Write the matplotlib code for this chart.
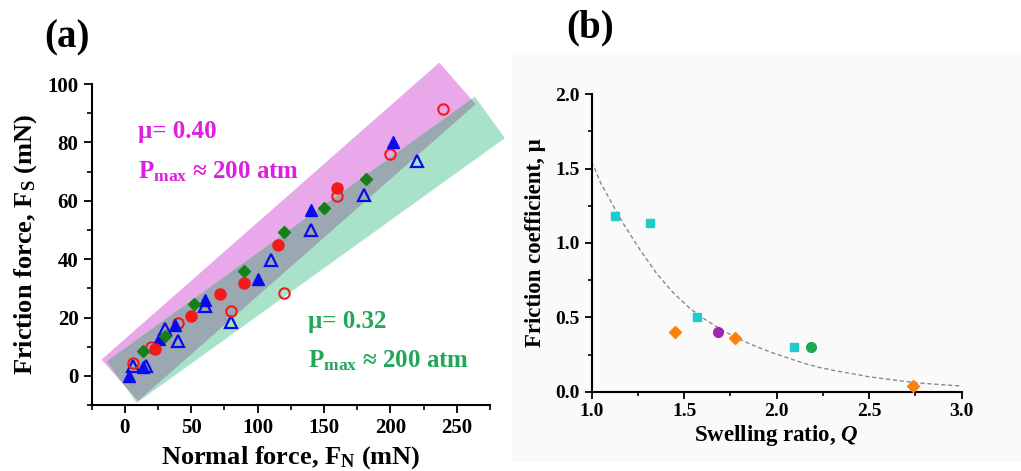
import matplotlib
matplotlib.use("Agg")
import matplotlib.pyplot as plt
import numpy as np
from matplotlib.patches import Polygon, Rectangle
from matplotlib.ticker import MultipleLocator, FormatStrFormatter

plt.rcParams['font.family'] = ['Liberation Serif', 'DejaVu Serif']
plt.rcParams['font.weight'] = 'bold'
plt.rcParams['mathtext.fontset'] = 'custom'
plt.rcParams['mathtext.rm'] = 'Liberation Serif:bold'
plt.rcParams['mathtext.bf'] = 'Liberation Serif:bold'
plt.rcParams['mathtext.it'] = 'Liberation Serif:italic:bold'

# ---- panel (a) data: normal force vs friction force (mN)
tri_fill_x = [3, 14, 26, 38, 60, 100, 140, 202]
tri_fill_y = [0, 3.0, 12.8, 17.3, 26, 33.2, 57, 80]
tri_open_x = [6, 16, 30, 40, 60, 80, 110, 140, 180, 220]
tri_open_y = [3.5, 3.4, 16, 12, 24, 18.3, 39.7, 50, 62, 73.5]
circ_fill_x = [23, 50, 72, 90, 115, 160]
circ_fill_y = [9.2, 20.4, 28, 32, 45, 64.4]
circ_open_x = [6, 20, 40, 80, 120, 160, 200, 240]
circ_open_y = [4.4, 9.8, 18.2, 22.3, 28.3, 61.5, 76.2, 91.3]
dia_x = [14, 30, 52, 90, 120, 150, 182]
dia_y = [8.6, 13.5, 24.6, 36, 49.3, 57.5, 67.4]

# shaded bands (slope, intercept, vertical half-height, x range of centre line)
band_slope = [0.40, 0.327]
band_icpt = [0.0, -1.35]
band_half = [12.6, 10.8]
band_x0 = [-3.8, -2.3]
band_x1 = [250.6, 275.0]
band_color = ['#e9a8e9', '#a8e3c9']
overlap_color = '#9ba7b1'

# ---- panel (b) data: swelling ratio vs friction coefficient
sq_q = [1.126, 1.315, 1.571, 2.094]
sq_mu = [1.18, 1.132, 0.50, 0.298]
od_q = [1.45, 1.775, 2.739]
od_mu = [0.40, 0.36, 0.038]
pc_q = [1.685]
pc_mu = [0.40]
gc_q = [2.184]
gc_mu = [0.30]
fit_q = [1.0, 1.05, 1.108, 1.171, 1.261, 1.351, 1.441, 1.531, 1.622, 1.711, 1.80,
         1.892, 1.98, 2.072, 2.15, 2.234, 2.32, 2.414, 2.5, 2.595, 2.685, 2.775, 2.88, 3.0]
fit_mu = [1.547, 1.40, 1.27, 1.13, 0.955, 0.795, 0.665, 0.56, 0.478, 0.41, 0.352,
          0.302, 0.26, 0.222, 0.19, 0.162, 0.14, 0.12, 0.1, 0.085, 0.07, 0.058, 0.048, 0.038]

fig = plt.figure(figsize=(10.21, 4.71), dpi=100)
fig.patches.append(Rectangle((0.501, 0.019), 0.499, 0.868, transform=fig.transFigure,
                             facecolor='#fafafa', edgecolor='none', zorder=-10))

def style_axes(ax, tsize):
    for s in ['top', 'right']:
        ax.spines[s].set_visible(False)
    for s in ['left', 'bottom']:
        ax.spines[s].set_linewidth(1.5)
    ax.tick_params(which='major', direction='out', length=6, width=1.3, labelsize=tsize)
    ax.tick_params(which='minor', direction='out', length=3.5, width=1.2)
    ax.patch.set_visible(False)

# ---------------- panel (a)
ax1 = fig.add_axes([0.0898, 0.140, 0.390, 0.6815])
ax1.set_xlim(-25, 275)
ax1.set_ylim(-10, 100)
style_axes(ax1, 15)
ax1.xaxis.set_minor_locator(MultipleLocator(25))
ax1.yaxis.set_minor_locator(MultipleLocator(10))
ax1.set_xticks([0, 50, 100, 150, 200, 250])
ax1.set_yticks([0, 20, 40, 60, 80, 100])

def band_polygon(ax, m, b, h, x0, x1):
    # rectangle along the centre line, ends square in screen space
    p0 = ax.transData.transform((x0, m * x0 + b))
    p1 = ax.transData.transform((x1, m * x1 + b))
    d = (p1 - p0) / np.hypot(*(p1 - p0))
    n = np.array([-d[1], d[0]])
    hpx = ax.transData.transform((0, h))[1] - ax.transData.transform((0, 0))[1]
    w = hpx * d[0]
    pts = np.array([p0 + n * w, p1 + n * w, p1 - n * w, p0 - n * w])
    return ax.transData.inverted().transform(pts)

patches = []
for i in range(2):
    poly = Polygon(band_polygon(ax1, band_slope[i], band_icpt[i], band_half[i],
                                band_x0[i], band_x1[i]),
                   closed=True, facecolor=band_color[i], edgecolor='none',
                   clip_on=False, zorder=1)
    ax1.add_patch(poly)
    patches.append(poly)
overlap = Polygon(band_polygon(ax1, band_slope[1], band_icpt[1], band_half[1],
                               band_x0[1], band_x1[1]),
                  closed=True, facecolor=overlap_color, edgecolor='none', zorder=2)
overlap.set_clip_path(patches[0])
ax1.add_patch(overlap)

blue = '#0a0aee'
red = '#f51a1a'
dgreen = '#177f17'
ax1.plot(tri_open_x, tri_open_y, '^', ms=8.5, mfc='none', mec=blue, mew=1.6, zorder=3, clip_on=False)
ax1.plot(circ_open_x, circ_open_y, 'o', ms=7.5, mfc='none', mec=red, mew=1.5, zorder=3, clip_on=False)
ax1.plot(tri_fill_x, tri_fill_y, '^', ms=8.5, color=blue, zorder=4, clip_on=False)
ax1.plot(circ_fill_x, circ_fill_y, 'o', ms=8, color=red, zorder=4, clip_on=False)
ax1.plot(dia_x, dia_y, 'D', ms=6.5, color=dgreen, zorder=4, clip_on=False)

mag = '#dd1ee3'
grn = '#22a65a'
ax1.text(9.8, 81.5, 'μ= 0.40', color=mag, fontsize=18, fontweight='bold', va='baseline')
ax1.text(9.8, 67.8, r'P$_{\mathrm{max}}$ ≈ 200 atm', color=mag, fontsize=18,
         fontweight='bold', va='baseline')
ax1.text(138, 16.5, 'μ= 0.32', color=grn, fontsize=18, fontweight='bold', va='baseline')
ax1.text(138, 2.75, r'P$_{\mathrm{max}}$ ≈ 200 atm', color=grn, fontsize=18,
         fontweight='bold', va='baseline')

ax1.set_xlabel(r'Normal force, F$_{\mathrm{N}}$ (mN)', fontsize=19, fontweight='bold', labelpad=4)
ax1.set_ylabel(r'Friction force, F$_{\mathrm{S}}$ (mN)', fontsize=19, fontweight='bold', labelpad=6)
fig.text(0.066, 0.92, '(a)', fontsize=28, fontweight='bold', ha='center', va='center')

# ---------------- panel (b)
ax2 = fig.add_axes([0.5795, 0.1684, 0.3624, 0.6315])
ax2.set_xlim(1.0, 3.0)
ax2.set_ylim(0.0, 2.0)
style_axes(ax2, 14)
ax2.xaxis.set_major_locator(MultipleLocator(0.5))
ax2.xaxis.set_minor_locator(MultipleLocator(0.25))
ax2.yaxis.set_major_locator(MultipleLocator(0.5))
ax2.yaxis.set_minor_locator(MultipleLocator(0.25))
ax2.xaxis.set_major_formatter(FormatStrFormatter('%.1f'))
ax2.yaxis.set_major_formatter(FormatStrFormatter('%.1f'))
ax2.tick_params(which='major', length=5)
ax2.tick_params(which='minor', length=3)

ax2.plot(fit_q, fit_mu, '--', color='#8a8a8a', lw=1.0, dashes=(3, 2), zorder=2)
ax2.plot(sq_q, sq_mu, 's', ms=6, color='#1fcbcb', zorder=3, clip_on=False)
ax2.plot(od_q, od_mu, 'D', ms=6, color='#ff8208', zorder=3, clip_on=False)
ax2.plot(pc_q, pc_mu, 'o', ms=7, color='#a424ab', zorder=3, clip_on=False)
ax2.plot(gc_q, gc_mu, 'o', ms=7, color='#1aaa52', zorder=3, clip_on=False)

ax2.set_xlabel(r'Swelling ratio, $Q$', fontsize=16.5, fontweight='bold', labelpad=2)
ax2.set_ylabel('Friction coefficient, μ', fontsize=16.5, fontweight='bold', labelpad=7)
fig.text(0.578, 0.94, '(b)', fontsize=28, fontweight='bold', ha='center', va='center')

fig.savefig('out.png', dpi=100)
